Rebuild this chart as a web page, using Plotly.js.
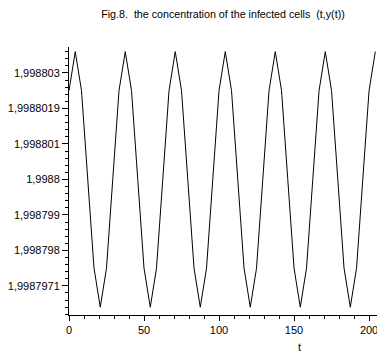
<!DOCTYPE html>
<html>
<head>
<meta charset="utf-8">
<script src="https://cdn.plot.ly/plotly-3.0.1.min.js"></script>
<style>html,body{margin:0;padding:0;background:#fff;}#chart{width:377px;height:354px;}</style>
</head>
<body>
<div id="chart"></div>
<script>
var tValues = [0, 4.17, 8.33, 12.5, 16.67, 20.83, 25, 29.17, 33.33, 37.5,
  41.67, 45.83, 50, 54.17, 58.33, 62.5, 66.67, 70.83, 75, 79.17,
  83.33, 87.5, 91.67, 95.83, 100, 104.17, 108.33, 112.5, 116.67, 120.83,
  125, 129.17, 133.33, 137.5, 141.67, 145.83, 150, 154.17, 158.33, 162.5,
  166.67, 170.83, 175, 179.17, 183.33, 187.5, 191.67, 195.83, 200, 204.17];
var yValues = [1.9988025, 1.9988036, 1.9988025, 1.9988000, 1.9987975, 1.9987964, 1.9987975, 1.9988000,
  1.9988025, 1.9988036, 1.9988025, 1.9988000, 1.9987975, 1.9987964, 1.9987975, 1.9988000,
  1.9988025, 1.9988036, 1.9988025, 1.9988000, 1.9987975, 1.9987964, 1.9987975, 1.9988000,
  1.9988025, 1.9988036, 1.9988025, 1.9988000, 1.9987975, 1.9987964, 1.9987975, 1.9988000,
  1.9988025, 1.9988036, 1.9988025, 1.9988000, 1.9987975, 1.9987964, 1.9987975, 1.9988000,
  1.9988025, 1.9988036, 1.9988025, 1.9988000, 1.9987975, 1.9987964, 1.9987975, 1.9988000,
  1.9988025, 1.9988036];
var yTickVals = [1.998797, 1.998798, 1.998799, 1.998800, 1.998801, 1.998802, 1.998803];
var yTickText = ["1,9987971", "1,998798", "1,998799", "1,9988", "1,998801", "1,9988019", "1,998803"];
var xTickVals = [0, 50, 100, 150, 200];
var xTickText = ["0", "50", "100", "150", "200"];
var titleText = "Fig.8.  the concentration of the infected cells  (t,y(t))";
var xLabel = "t";

var fontFam = "Liberation Sans, Arial, sans-serif";
Plotly.newPlot("chart", [{
  x: tValues, y: yValues, type: "scatter", mode: "lines",
  line: {color: "#000", width: 1}, hoverinfo: "skip"
}], {
  width: 377, height: 354,
  margin: {l: 69, r: 0, t: 47, b: 39},
  paper_bgcolor: "#fff", plot_bgcolor: "#fff",
  showlegend: false,
  font: {family: fontFam, size: 11, color: "#000"},
  title: {text: titleText, x: 0.5, xref: "paper", y: 1 - 14/354, yref: "container", yanchor: "middle",
    font: {family: fontFam, size: 10.7, color: "#000"}},
  xaxis: {
    range: [0, 205.3], showgrid: false, zeroline: false,
    showline: true, linecolor: "#000", linewidth: 1,
    ticks: "outside", ticklen: 5, tickcolor: "#000", tickwidth: 1,
    tickvals: xTickVals, ticktext: xTickText, ticklabeloverflow: "allow",
    minor: {dtick: 10, tick0: 0, ticks: "outside", ticklen: 3, tickcolor: "#000", showgrid: false},
    tickfont: {family: fontFam, size: 11, color: "#000"}
  },
  yaxis: {
    range: [1.99879618, 1.99880373], showgrid: false, zeroline: false,
    showline: true, linecolor: "#000", linewidth: 1,
    ticks: "outside", ticklen: 6, tickcolor: "#000", tickwidth: 1,
    tickvals: yTickVals, ticktext: yTickText,
    minor: {dtick: 2e-7, tick0: 1.998797, ticks: "outside", ticklen: 3, tickcolor: "#000", showgrid: false},
    tickfont: {family: fontFam, size: 11, color: "#000"}
  },
  annotations: [{
    text: xLabel, xref: "paper", yref: "paper", x: (299 - 69) / 308, y: (315 - 347) / 268,
    xanchor: "center", yanchor: "middle", showarrow: false,
    font: {family: fontFam, size: 11, color: "#000"}
  }]
}, {displayModeBar: false, staticPlot: true});
</script>
</body>
</html>
